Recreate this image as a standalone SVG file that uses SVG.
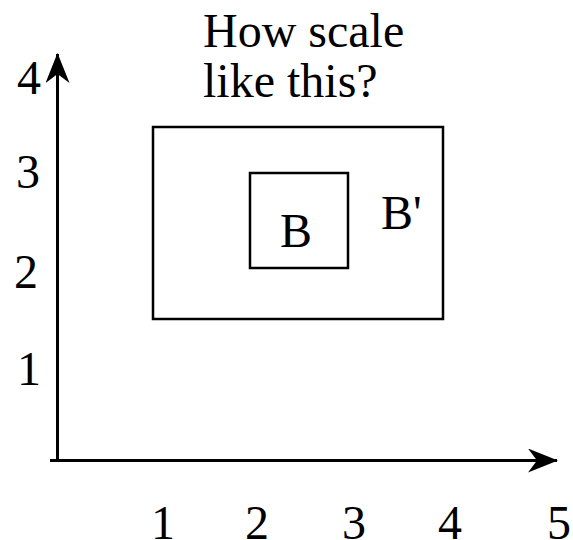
<svg xmlns="http://www.w3.org/2000/svg" width="573" height="540" viewBox="0 0 573 540">
<defs>
<marker id="ah" viewBox="0 0 30 24" refX="29" refY="12" markerWidth="30" markerHeight="24" markerUnits="userSpaceOnUse" orient="auto">
<path d="M30 12 L0 0 L9 12 L0 24 Z" fill="#000"/>
</marker>
</defs>
<rect width="573" height="540" fill="#fff"/>
<g id="connectors" stroke="#000" stroke-width="3" fill="none">
<line x1="57.5" y1="462" x2="57.5" y2="54" marker-end="url(#ah)"/>
<line x1="50" y1="460.5" x2="557" y2="460.5" marker-end="url(#ah)"/>
</g>
<g id="title" font-family="Liberation Serif, Times New Roman, serif" font-size="48">
<text x="203" y="47">How scale</text>
<text x="203" y="97">like this?</text>
</g>
<g id="yticks" text-anchor="middle" font-family="Liberation Serif, Times New Roman, serif" font-size="48">
<text x="29" y="94">4</text>
<text x="28" y="188">3</text>
<text x="26" y="288">2</text>
<text x="29" y="385">1</text>
</g>
<g id="xticks" text-anchor="middle" font-family="Liberation Serif, Times New Roman, serif" font-size="48">
<text x="163" y="539">1</text>
<text x="257" y="539">2</text>
<text x="354" y="539">3</text>
<text x="450" y="539">4</text>
<text x="559" y="539">5</text>
</g>
<g id="Bprime">
<rect x="153" y="127" width="290" height="192" fill="none" stroke="#000" stroke-width="2.5"/>
<text x="381" y="229" font-family="Liberation Serif, Times New Roman, serif" font-size="48">B'</text>
</g>
<g id="B">
<rect x="250" y="173" width="98" height="95" fill="none" stroke="#000" stroke-width="2.5"/>
<text x="296" y="247" text-anchor="middle" font-family="Liberation Serif, Times New Roman, serif" font-size="48">B</text>
</g>
</svg>
